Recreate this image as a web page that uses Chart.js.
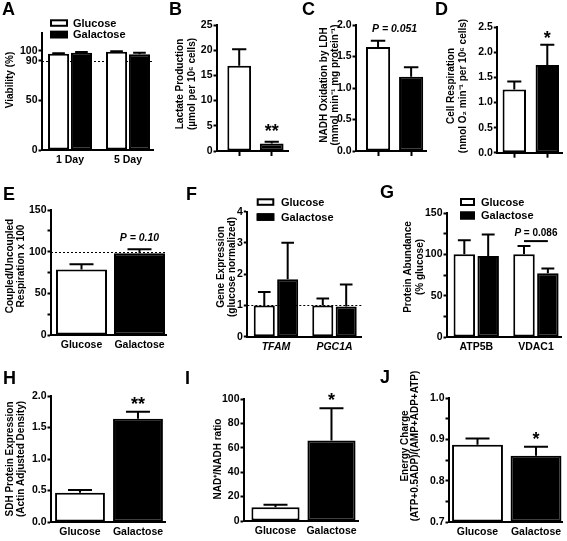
<!DOCTYPE html>
<html>
<head>
<meta charset="utf-8">
<script src="https://cdn.jsdelivr.net/npm/chart.js@4.4.1/dist/chart.umd.min.js"></script>
<style>
  body { margin: 0; background: #fff; }
  #fig { position: relative; width: 567px; height: 541px; overflow: hidden; background: #fff; }
  #fig canvas { position: absolute; }
</style>
</head>
<body>
<div id="fig"></div>
<script>
// ---- data ----
// A: viability
const dayLabels = ['1 Day', '5 Day'];
const viabilityGlucose = [97, 99];
const viabilityGlucoseSem = [0.6, 0.5];
const viabilityGalactose = [98, 96.5];
const viabilityGalactoseSem = [0.8, 1.5];
const viabilityTicks = [0, 50, 90, 100];

// single-pair panels share these categories
const mediaLabels = ['Glucose', 'Galactose'];
// B: lactate production
const lactate = [16.9, 1.5];
const lactateSem = [3.3, 0.35];
// C: NADH oxidation by LDH
const nadhOxidation = [1.65, 1.18];
const nadhOxidationSem = [0.10, 0.15];
// D: cell respiration
const respiration = [1.26, 1.75];
const respirationSem = [0.16, 0.40];
// E: coupled / uncoupled respiration
const coupling = [78.5, 98];
const couplingSem = [6.5, 5];
// F: gene expression
const geneLabels = ['TFAM', 'PGC1A'];
const geneGlucose = [1.0, 1.0];
const geneGlucoseSem = [0.43, 0.22];
const geneGalactose = [1.84, 0.97];
const geneGalactoseSem = [1.17, 0.70];
// G: protein abundance
const proteinLabels = ['ATP5B', 'VDAC1'];
const proteinGlucose = [100, 100];
const proteinGlucoseSem = [17, 10];
const proteinGalactose = [98, 77];
const proteinGalactoseSem = [26, 6];
// H: SDH protein expression
const sdh = [0.466, 1.64];
const sdhSem = [0.04, 0.11];
// I: NAD+/NADH ratio
const nadRatio = [11.2, 66];
const nadRatioSem = [2.2, 26.5];
// J: energy charge
const energyCharge = [0.887, 0.860];
const energyChargeSem = [0.015, 0.022];

const FONT = '"Liberation Sans", Arial, Helvetica, sans-serif';
Chart.defaults.font.family = FONT;
Chart.defaults.color = '#000';

const WHITE = '#ffffff', BLACK = '#000000';

// error whiskers, dotted reference lines, stars, p-values, legend, axis title, panel letter
const deco = {
  id: 'deco',
  beforeDatasetsDraw(chart, args, o) {
    if (o.refY == null) return;
    const { ctx, chartArea: a, scales: { y } } = chart;
    const py = Math.round(y.getPixelForValue(o.refY)) + 0.5;
    ctx.save();
    ctx.setLineDash([2, 2]);
    ctx.lineWidth = 1;
    ctx.strokeStyle = '#000';
    ctx.beginPath();
    ctx.moveTo(a.left, py);
    ctx.lineTo(a.right, py);
    ctx.stroke();
    ctx.restore();
  },
  afterDatasetsDraw(chart, args, o) {
    const { ctx, scales: { x, y } } = chart;
    const errTop = (di, i) => {
      const ds = chart.data.datasets[di];
      return y.getPixelForValue(ds.data[i].y + ds.errors[i]);
    };
    ctx.save();
    ctx.strokeStyle = '#000';
    ctx.fillStyle = '#000';
    ctx.lineWidth = 2;
    chart.data.datasets.forEach((ds, di) => {
      chart.getDatasetMeta(di).data.forEach((bar, i) => {
        const yt = errTop(di, i);
        const cap = Math.min(bar.width * 0.6, 24) / 2;
        ctx.beginPath();
        ctx.moveTo(bar.x, bar.y);
        ctx.lineTo(bar.x, yt);
        ctx.moveTo(bar.x - cap, yt);
        ctx.lineTo(bar.x + cap, yt);
        ctx.stroke();
      });
    });
    (o.stars || []).forEach(s => {
      const bar = chart.getDatasetMeta(s.ds).data[s.i];
      ctx.font = 'bold 18px ' + FONT;
      ctx.textAlign = 'center';
      ctx.textBaseline = 'alphabetic';
      ctx.fillText(s.text, bar.x, errTop(s.ds, s.i) - (s.gap || 2));
    });
    (o.notes || []).forEach(n => {
      const fonts = n.parts.map(p => (p.italic ? 'italic ' : '') + 'bold ' + n.size + 'px ' + FONT);
      let w = 0;
      const ws = n.parts.map((p, k) => { ctx.font = fonts[k]; const m = ctx.measureText(p.t).width; w += m; return m; });
      let px = x.getPixelForValue(n.x) - w / 2;
      const py = y.getPixelForValue(n.y);
      ctx.textAlign = 'left';
      ctx.textBaseline = 'middle';
      n.parts.forEach((p, k) => { ctx.font = fonts[k]; ctx.fillText(p.t, px, py); px += ws[k]; });
    });
    if (o.bracket) {
      const b = o.bracket;
      const x0 = chart.getDatasetMeta(b.from[0]).data[b.from[1]].x;
      const x1 = chart.getDatasetMeta(b.to[0]).data[b.to[1]].x;
      const py = y.getPixelForValue(b.y);
      ctx.beginPath();
      ctx.moveTo(x0, py);
      ctx.lineTo(x1, py);
      ctx.stroke();
    }
    ctx.restore();
  },
  afterDraw(chart, args, o) {
    const ctx = chart.ctx;
    ctx.save();
    ctx.fillStyle = '#000';
    if (o.legend) {
      const L = o.legend;
      chart.data.datasets.forEach((ds, k) => {
        const top = L.y + k * L.gap;
        ctx.fillStyle = ds.backgroundColor;
        ctx.fillRect(L.x, top, L.w, L.h);
        ctx.lineWidth = 2;
        ctx.strokeStyle = '#000';
        ctx.strokeRect(L.x + 1, top + 1, L.w - 2, L.h - 2);
        ctx.fillStyle = '#000';
        ctx.font = 'bold 11px ' + FONT;
        ctx.textAlign = 'left';
        ctx.textBaseline = 'middle';
        ctx.fillText(ds.label, L.textX, top + L.h / 2 + 0.5);
      });
    }
    if (o.title) {
      const t = o.title;
      ctx.save();
      ctx.translate(t.x, t.y);
      ctx.rotate(-Math.PI / 2);
      ctx.font = 'bold 10px ' + FONT;
      ctx.textAlign = 'center';
      ctx.textBaseline = 'middle';
      t.lines.forEach((line, k) => ctx.fillText(line, 0, k * (t.gap || 11.5)));
      ctx.restore();
    }
    if (o.letter) {
      ctx.font = 'bold 18px ' + FONT;
      ctx.textAlign = 'left';
      ctx.textBaseline = 'alphabetic';
      ctx.fillText(o.letter.text, o.letter.x, o.letter.y);
    }
    ctx.restore();
  }
};
Chart.register(deco);

const oneDecimal = v => v.toFixed(1);
const plain = v => String(v);
const every50 = v => (v % 50 === 0 ? String(v) : '');
const tenths = v => { const t = Math.round(v * 100); return t % 10 === 0 ? (t / 100).toFixed(1) : ''; };

function pair(values, sem) {
  return [{ label: 'Glucose/Galactose', values, errors: sem, fill: [WHITE, BLACK] }];
}

// box = canvas [left, top, w, h]; area = [y-axis x, plot top, plot right, plot bottom] in page px
function drawPanel(p) {
  const [bx, by, bw, bh] = p.box;
  const [ax, top, right, bottom] = p.area;
  const canvas = document.createElement('canvas');
  canvas.width = bw;
  canvas.height = bh;
  canvas.style.left = bx + 'px';
  canvas.style.top = by + 'px';
  document.getElementById('fig').appendChild(canvas);

  const tickFont = { size: 10.5, weight: 'bold' };
  return new Chart(canvas, {
    type: 'bar',
    data: {
      datasets: p.series.map(s => ({
        label: s.label,
        data: s.values.map((v, i) => ({ x: i, y: v })),
        errors: s.errors,
        backgroundColor: s.fill,
        borderColor: '#000',
        borderWidth: 2,
        borderSkipped: false,
        base: p.yMin,
        categoryPercentage: p.catPct || 1,
        barPercentage: p.barPct
      }))
    },
    options: {
      responsive: false,
      animation: false,
      devicePixelRatio: 1,
      events: [],
      layout: { padding: { left: 0, top: top - by, right: bx + bw - right, bottom: 0 } },
      plugins: { legend: { display: false }, tooltip: { enabled: false }, deco: p.deco },
      scales: {
        x: {
          type: 'linear',
          min: p.xMin,
          max: p.xMax,
          offset: false,
          afterBuildTicks: s => { s.ticks = p.cats.map((c, i) => ({ value: i })); },
          afterFit: s => { s.height = by + bh - bottom; },
          ticks: {
            autoSkip: false, maxRotation: 0, minRotation: 0,
            padding: p.xMarks ? 0 : 4,
            font: p.catFont || tickFont,
            callback: v => (p.xMarks ? '' : p.cats[v])
          },
          grid: { offset: false, drawOnChartArea: false, drawTicks: !!p.xMarks, tickLength: 5, tickWidth: 2, tickColor: '#000' },
          border: { color: '#000', width: 2 }
        },
        y: {
          min: p.yMin,
          max: p.yMax,
          afterBuildTicks: s => { if (p.yTicks) s.ticks = p.yTicks.map(v => ({ value: v })); },
          afterFit: s => { s.width = ax - bx; },
          ticks: { autoSkip: false, stepSize: p.yStep, padding: 1, font: tickFont, callback: p.yLabel },
          grid: { drawOnChartArea: false, tickLength: 3.5, tickWidth: 2, tickColor: '#000' },
          border: { color: '#000', width: 2 },
          title: { display: false }
        }
      }
    }
  });
}

// A
drawPanel({
  box: [0, 0, 160, 175], area: [42, 33, 153, 150],
  cats: dayLabels, xMin: -0.483, xMax: 1.431, catPct: 0.79, barPct: 0.92,
  series: [
    { label: 'Glucose', values: viabilityGlucose, errors: viabilityGlucoseSem, fill: WHITE },
    { label: 'Galactose', values: viabilityGalactose, errors: viabilityGalactoseSem, fill: BLACK }
  ],
  yMin: 0, yMax: 118, yTicks: viabilityTicks, yLabel: plain,
  deco: {
    letter: { text: 'A', x: 2, y: 15 }, refY: 90,
    title: { lines: ['Viability (%)'], x: 10, y: 80 },
    legend: { x: 50, y: 19.3, w: 18, h: 7.5, gap: 11.5, textX: 73 }
  }
});

// B
drawPanel({
  box: [160, 0, 140, 175], area: [217, 25, 288.3, 151],
  cats: mediaLabels, xMarks: true, xMin: -0.683, xMax: 1.51, barPct: 0.73,
  series: pair(lactate, lactateSem),
  yMin: 0, yMax: 25, yStep: 5, yLabel: plain,
  deco: {
    letter: { text: 'B', x: 9, y: 15 },
    title: { lines: ['Lactate Production', '(µmol per 10⁶ cells)'], x: 20.7, y: 84, gap: 12 },
    stars: [{ text: '**', ds: 0, i: 1, gap: 5 }]
  }
});

// C
drawPanel({
  box: [300, 0, 130, 175], area: [356, 25, 426, 151],
  cats: mediaLabels, xMarks: true, xMin: -0.667, xMax: 1.45, barPct: 0.73,
  series: pair(nadhOxidation, nadhOxidationSem),
  yMin: 0, yMax: 2, yStep: 0.5, yLabel: oneDecimal,
  deco: {
    letter: { text: 'C', x: 2, y: 15 },
    title: { lines: ['NADH Oxidation by LDH', '(mmol min⁻¹ mg protein⁻¹)'], x: 24.5, y: 85, gap: 11 },
    notes: [{ parts: [{ t: 'P = 0.051', italic: true }], x: 0.5, y: 1.93, size: 10.5 }]
  }
});

// D
drawPanel({
  box: [430, 0, 137, 175], area: [497.3, 27.3, 562.7, 152.7],
  cats: mediaLabels, xMarks: true, xMin: -0.515, xMax: 1.467, barPct: 0.71,
  series: pair(respiration, respirationSem),
  yMin: 0, yMax: 2.5, yStep: 0.5, yLabel: oneDecimal,
  deco: {
    letter: { text: 'D', x: 5, y: 15 },
    title: { lines: ['Cell Respiration', '(nmol O₂ min⁻¹ per 10⁶ cells)'], x: 21.7, y: 86, gap: 11.6 },
    stars: [{ text: '*', ds: 0, i: 1, gap: 1 }]
  }
});

// E
drawPanel({
  box: [0, 176, 183, 182], area: [51, 210, 166, 335],
  cats: mediaLabels, xMin: -0.526, xMax: 1.457, barPct: 0.88,
  series: pair(coupling, couplingSem),
  yMin: 0, yMax: 150, yStep: 25, yLabel: every50,
  deco: {
    letter: { text: 'E', x: 3, y: 24 }, refY: 100,
    title: { lines: ['Coupled/Uncoupled', 'Respiration x 100'], x: 10.3, y: 90, gap: 11.4 },
    notes: [{ parts: [{ t: 'P = 0.10', italic: true }], x: 1, y: 116.4, size: 10.5 }]
  }
});

// F
drawPanel({
  box: [183, 176, 193, 182], area: [247.3, 211.7, 361.7, 336.7],
  cats: geneLabels, catFont: { size: 10.5, weight: 'bold', style: 'italic' },
  xMin: -0.49, xMax: 1.465, catPct: 0.8, barPct: 0.9,
  series: [
    { label: 'Glucose', values: geneGlucose, errors: geneGlucoseSem, fill: WHITE },
    { label: 'Galactose', values: geneGalactose, errors: geneGalactoseSem, fill: BLACK }
  ],
  yMin: 0, yMax: 4, yStep: 1, yLabel: plain,
  deco: {
    letter: { text: 'F', x: 3, y: 24 }, refY: 1,
    title: { lines: ['Gene Expression', '(glucose normalized)'], x: 38, y: 91, gap: 11.5 },
    legend: { x: 73.7, y: 22.3, w: 17.6, h: 7.5, gap: 15, textX: 98 }
  }
});

// G
drawPanel({
  box: [376, 176, 191, 182], area: [447, 213, 561, 337],
  cats: proteinLabels, xMin: -0.49, xMax: 1.42, catPct: 0.8, barPct: 0.9,
  series: [
    { label: 'Glucose', values: proteinGlucose, errors: proteinGlucoseSem, fill: WHITE },
    { label: 'Galactose', values: proteinGalactose, errors: proteinGalactoseSem, fill: BLACK }
  ],
  yMin: 0, yMax: 150, yStep: 25, yLabel: every50,
  deco: {
    letter: { text: 'G', x: 4, y: 22 },
    title: { lines: ['Protein Abundance', '(% glucose)'], x: 32, y: 91, gap: 12 },
    legend: { x: 84, y: 22, w: 15, h: 8, gap: 13.5, textX: 105 },
    notes: [{ parts: [{ t: 'P', italic: true }, { t: ' = 0.086' }], x: 1, y: 125.8, size: 10 }],
    bracket: { from: [0, 1], to: [1, 1], y: 116 }
  }
});

// H
drawPanel({
  box: [0, 358, 183, 183], area: [51, 396, 165, 522],
  cats: mediaLabels, xMin: -0.5, xMax: 1.466, barPct: 0.86,
  series: pair(sdh, sdhSem),
  yMin: 0, yMax: 2, yStep: 0.5, yLabel: oneDecimal,
  deco: {
    letter: { text: 'H', x: 3, y: 26 },
    title: { lines: ['SDH Protein Expression', '(Actin Adjusted Density)'], x: 10, y: 101, gap: 11.7 },
    stars: [{ text: '**', ds: 0, i: 1 }]
  }
});

// I
drawPanel({
  box: [183, 358, 193, 183], area: [244, 399, 358.3, 521],
  cats: mediaLabels, xMin: -0.5625, xMax: 1.479, barPct: 0.86,
  series: pair(nadRatio, nadRatioSem),
  yMin: 0, yMax: 100, yStep: 20, yLabel: plain,
  deco: {
    letter: { text: 'I', x: 2, y: 26 },
    title: { lines: ['NAD⁺/NADH ratio'], x: 35.3, y: 101 },
    stars: [{ text: '*', ds: 0, i: 1 }]
  }
});

// J
drawPanel({
  box: [376, 358, 191, 183], area: [449, 398, 562.7, 522],
  cats: mediaLabels, xMin: -0.487, xMax: 1.456, barPct: 0.87,
  series: pair(energyCharge, energyChargeSem),
  yMin: 0.7, yMax: 1.0, yStep: 0.05, yLabel: tenths,
  deco: {
    letter: { text: 'J', x: 4, y: 25 },
    title: { lines: ['Energy Charge', '(ATP+0.5ADP)/(AMP+ADP+ATP)'], x: 29, y: 88, gap: 10 },
    stars: [{ text: '*', ds: 0, i: 1 }]
  }
});
</script>
</body>
</html>
